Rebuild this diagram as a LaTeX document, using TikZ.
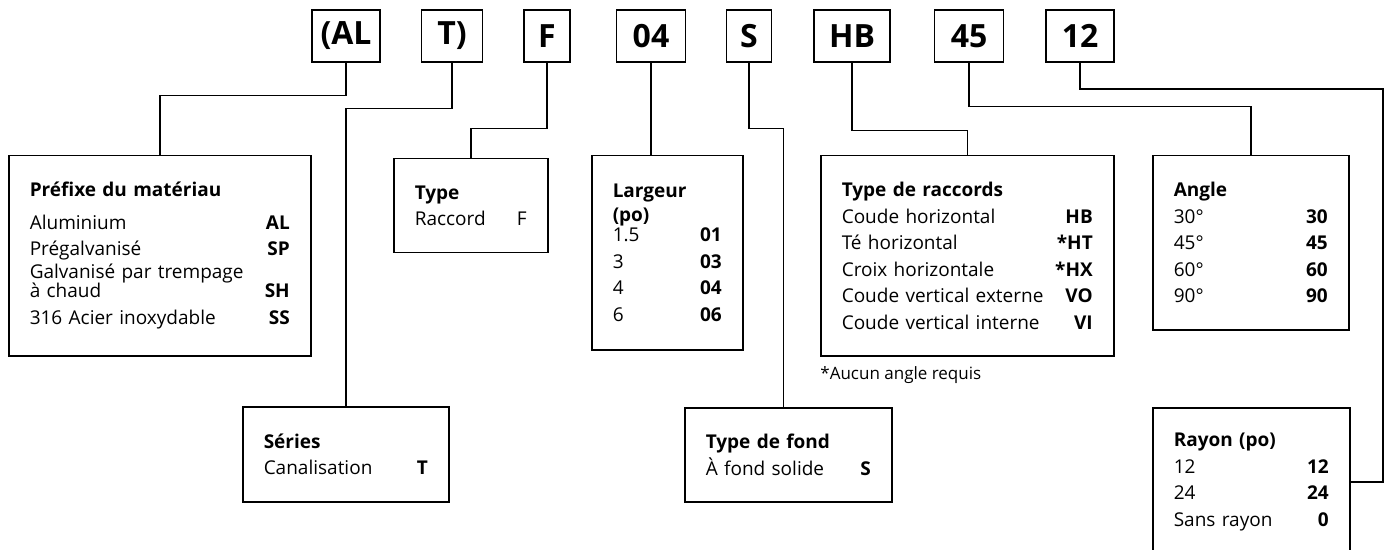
\documentclass[tikz,border=0pt]{standalone}
\usepackage{fontspec}
\setmainfont{Open Sans}
\newcommand{\codegap}{\hskip 0pt plus 1filll}

\begin{document}
\begin{tikzpicture}[x=0.5pt, y=-0.5pt,
    codebox/.style={draw, line width=0.75pt, minimum height=26pt, inner sep=0pt,
      font=\fontsize{16}{18}\selectfont\bfseries},
    infobox/.style={draw, line width=0.75pt, anchor=north west, inner xsep=10.5pt,
      inner ysep=0pt, align=left, font=\fontsize{9.5}{13.25}\selectfont},
    link/.style={line width=0.75pt}]
  \useasboundingbox (0,0) rectangle (1384,550);
  \clip (0,0) rectangle (1384,550);

  % code letters
  \node[codebox, minimum width=34pt] (al) at (346,36) {(AL};
  \node[codebox, minimum width=30.5pt] (tt) at (452,36) {T)};
  \node[codebox, minimum width=23pt] (ff) at (547,36) {F};
  \node[codebox, minimum width=34.5pt] (ww) at (651,36) {04};
  \node[codebox, minimum width=22.5pt] (ss) at (749,36) {S};
  \node[codebox, minimum width=38pt] (hb) at (852,36) {HB};
  \node[codebox, minimum width=34.5pt] (an) at (969,36) {45};
  \node[codebox, minimum width=34pt] (rd) at (1080,36) {12};

  % tables
  \node[infobox, text width=130pt, minimum height=100pt] (prefix) at (8,155)
    {\textbf{Préfixe du matériau}\\[3pt]
     Aluminium \codegap \textbf{AL}\\
     Prégalvanisé \codegap \textbf{SP}\\[-1.75pt]
     Galvanisé par trempage\\[-3.75pt]
     à chaud \codegap \textbf{SH}\\
     316 Acier inoxydable \codegap \textbf{SS}};
  \node[infobox, text width=82pt, minimum height=47.5pt] (series) at (242,406)
    {\textbf{Séries}\\
     Canalisation \codegap \textbf{T}};
  \node[infobox, text width=56pt, minimum height=47pt] (type) at (393,158)
    {\textbf{Type}\\
     Raccord \codegap F};
  \node[infobox, text width=54.5pt, minimum height=97pt] (width) at (591,155)
    {\textbf{Largeur}\\[-1.25pt]
     \textbf{(po)}\\[-3.25pt]
     1.5 \codegap \textbf{01}\\
     3 \codegap \textbf{03}\\
     4 \codegap \textbf{04}\\
     6 \codegap \textbf{06}};
  \node[infobox, text width=82.5pt, minimum height=47pt] (bottom) at (684,407)
    {\textbf{Type de fond}\\
     À fond solide \codegap \textbf{S}};
  \node[infobox, text width=125.5pt, minimum height=100pt] (fitting) at (820,155)
    {\textbf{Type de raccords}\\
     Coude horizontal \codegap \textbf{HB}\\
     Té horizontal \codegap \textbf{*HT}\\
     Croix horizontale \codegap \textbf{*HX}\\
     Coude vertical externe \codegap \textbf{VO}\\
     Coude vertical interne \codegap \textbf{VI}};
  \node[anchor=west, inner sep=0pt, font=\fontsize{8.5}{10}\selectfont] (note) at (820,375)
    {*Aucun angle requis};
  \node[infobox, text width=77pt, minimum height=87pt] (angle) at (1152,155)
    {\textbf{Angle}\\
     30° \codegap \textbf{30}\\
     45° \codegap \textbf{45}\\
     60° \codegap \textbf{60}\\
     90° \codegap \textbf{90}};
  \node[infobox, text width=77.5pt, minimum height=74pt] (radius) at (1152,407)
    {\textbf{Rayon (po)}\\
     12 \codegap \textbf{12}\\
     24 \codegap \textbf{24}\\
     Sans rayon \codegap \textbf{0}};

  % links
  \coordinate (corner) at (1383,89);
  \draw[link] (al.south) -- ++(0,33) -| (prefix.north);
  \draw[link] (tt.south) -- ++(0,46) -| (series.north);
  \draw[link] (ff.south) -- ++(0,66) -| (type.north);
  \draw[link] (ww.south) -- (ww.south |- width.north);
  \draw[link] (ss.south) -- ++(0,66) -| ([xshift=-2.5pt]bottom.north);
  \draw[link] (hb.south) -- ++(0,68) -| (fitting.north);
  \draw[link] (an.south) -- ++(0,44) -| (angle.north);
  \draw[link] (rd.south) |- (corner) |- (radius.east);
\end{tikzpicture}
\end{document}
